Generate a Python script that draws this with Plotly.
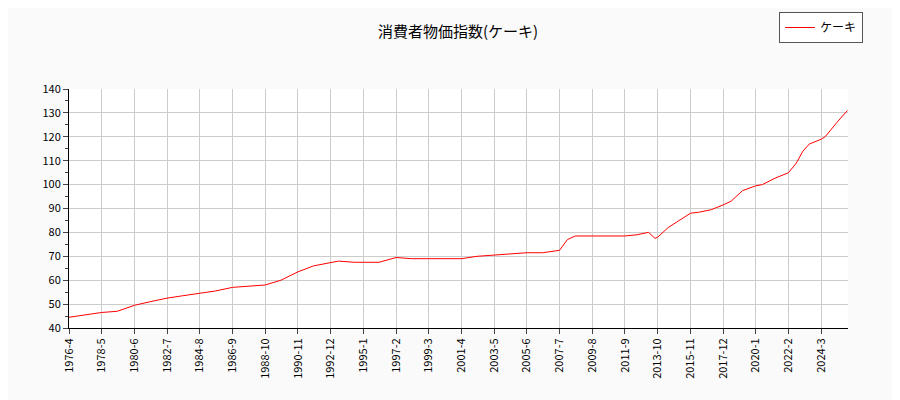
import plotly.graph_objects as go

dates = ["1976-04", "1977-04", "1978-05", "1979-05", "1980-06", "1981-06", "1982-07",
         "1983-07", "1984-08", "1985-08", "1986-09", "1987-09", "1988-10", "1989-10",
         "1990-11", "1991-11", "1992-12", "1993-06", "1994-06", "1995-01", "1996-01",
         "1997-02", "1998-02", "1999-03", "2000-03", "2001-04", "2002-04", "2003-05",
         "2004-05", "2005-06", "2006-06", "2007-07", "2008-01", "2008-07", "2009-08",
         "2010-08", "2011-09", "2012-06", "2013-03", "2013-08", "2013-10", "2014-06",
         "2015-03", "2015-11", "2016-06", "2017-03", "2017-12", "2018-06", "2019-03",
         "2020-01", "2020-06", "2021-03", "2022-02", "2022-08", "2023-01", "2023-06",
         "2024-03", "2024-06", "2025-03", "2025-11"]
values = [44.5, 45.5, 46.5, 47, 49.5, 51, 52.5,
          53.5, 54.5, 55.5, 57, 57.5, 58, 60,
          63.5, 66, 67.5, 68, 67.5, 67.5, 67.5,
          69.5, 69, 69, 69, 69, 70, 70.5,
          71, 71.5, 71.5, 72.5, 77, 78.5, 78.5,
          78.5, 78.5, 79, 80, 77.5, 78, 82,
          85, 88, 88.5, 89.5, 91.5, 93, 97.5,
          99.5, 100, 102.5, 105, 109, 114, 117,
          119, 120, 126, 131]

# ticks every 25 months from 1976-4
tick_vals, tick_text = [], []
y, m = 1976, 4
while (y, m) <= (2024, 3):
    tick_vals.append(f"{y}-{m:02d}-01")
    tick_text.append(f"{y}-{m}")
    m += 25
    while m > 12:
        m -= 12
        y += 1

fig = go.Figure()
fig.add_trace(go.Scatter(x=dates, y=values, mode="lines", name="ケーキ",
                         line=dict(color="red", width=1)))

fig.update_layout(
    title=dict(text="消費者物価指数(ケーキ)", x=0.5, xanchor="center", y=0.955, font=dict(size=15)),
    font=dict(family="Noto Sans CJK JP", size=11, color="black"),
    width=900, height=400,
    paper_bgcolor="#fafafa", plot_bgcolor="white",
    margin=dict(l=61, r=60, t=81, b=80, autoexpand=False),
    showlegend=True,
    legend=dict(x=0.95, y=0.99, xref="container", yref="container", xanchor="right",
                yanchor="top", bordercolor="#555", borderwidth=1, bgcolor="white",
                font=dict(size=12)),
)
fig.update_xaxes(type="date", range=["1976-04-01", "2025-11-15"], tickvals=tick_vals,
                 ticktext=tick_text, tickangle=-90, showgrid=True, gridcolor="#cccccc",
                 ticks="outside", showline=True, linecolor="black")
fig.update_yaxes(range=[40, 140], dtick=10, showgrid=True, gridcolor="#cccccc",
                 ticks="outside", showline=True, linecolor="black",
                 minor=dict(dtick=5, ticks="outside", ticklen=3, showgrid=False))

fig.write_html("out.html")
